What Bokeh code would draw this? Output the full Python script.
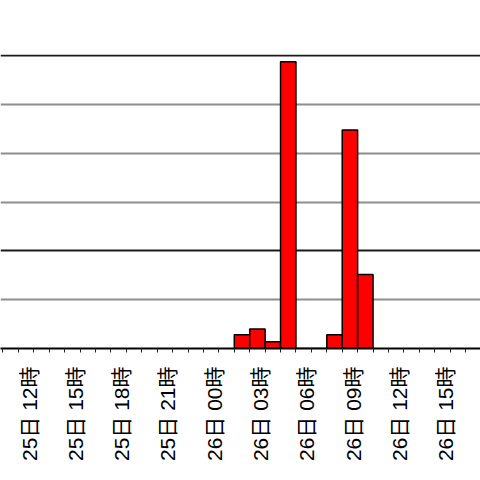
import math
from bokeh.plotting import figure
from bokeh.models import Range1d, FixedTicker, Grid
from bokeh.embed import file_html
from bokeh.resources import INLINE

# Hours counted from 25日 00時; each bar is the hour ending at its time
bar_end_hours = [26, 27, 28, 29, 30, 31, 32, 33, 34]
rain_values = [1.4, 2.0, 0.7, 29.4, 0.0, 0.0, 1.4, 22.4, 7.6]

tick_hours = [12, 15, 18, 21, 24, 27, 30, 33, 36, 39]
tick_labels = ["25日 12時", "25日 15時", "25日 18時", "25日 21時", "26日 00時",
               "26日 03時", "26日 06時", "26日 09時", "26日 12時", "26日 15時"]
minor_hours = list(range(10, 41))

grid_light = [5, 15, 20, 25]
grid_dark = [10, 30]

# small visual nudge so rotated labels sit centred on their hour tick
label_nudge = -0.3

p = figure(width=480, height=480,
           x_range=Range1d(9.838, 40.968), y_range=Range1d(0, 30.15),
           output_backend="svg", toolbar_location=None,
           min_border_left=0, min_border_right=0,
           min_border_top=54, min_border_bottom=132)
p.outline_line_color = None
p.background_fill_color = "white"
p.border_fill_color = "white"
p.xgrid.visible = False
p.ygrid.visible = False
p.yaxis.visible = False

g1 = Grid(dimension=1, ticker=FixedTicker(ticks=grid_light),
          grid_line_color="#8e8e8e", grid_line_width=2)
g2 = Grid(dimension=1, ticker=FixedTicker(ticks=grid_dark),
          grid_line_color="#1a1a1a", grid_line_width=2)
p.add_layout(g1)
p.add_layout(g2)

centers = [h - 0.5 for h in bar_end_hours]
p.vbar(x=centers, width=1, top=rain_values, bottom=0,
       fill_color="#ff0000", line_color="black", line_width=1.5)

label_pos = [h + label_nudge for h in tick_hours]
ax = p.xaxis[0]
ax.ticker = FixedTicker(ticks=label_pos, minor_ticks=minor_hours)
ax.major_label_overrides = {x: s for x, s in zip(label_pos, tick_labels)}
ax.major_label_orientation = math.pi / 2
ax.major_label_text_font = "'Liberation Sans', 'Noto Sans CJK JP'"
ax.major_label_text_font_size = "21px"
ax.major_label_text_color = "black"
ax.major_label_standoff = 14
ax.axis_line_color = "black"
ax.axis_line_width = 2
ax.major_tick_in = 0
ax.major_tick_out = 0
ax.minor_tick_in = 0
ax.minor_tick_out = 4
ax.major_tick_line_color = None
ax.minor_tick_line_color = "#222222"

open("out.html", "w").write(file_html(p, INLINE))
